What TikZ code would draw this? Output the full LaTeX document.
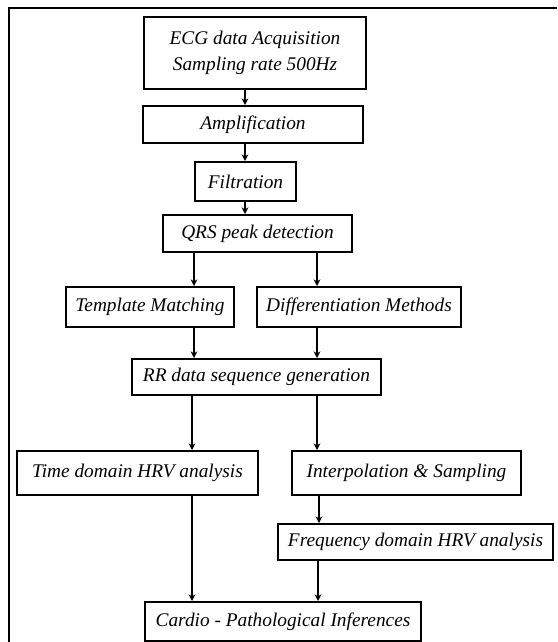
\documentclass[tikz,border=0pt]{standalone}
\usepackage{fontspec}
\setmainfont{Liberation Serif}
\usetikzlibrary{arrows.meta}
\begin{document}
\begin{tikzpicture}[x=0.75pt,y=-0.75pt,
  box/.style={draw=black,line width=1.5pt,fill=white,inner sep=0pt,align=center,
    font=\fontsize{14.5pt}{19pt}\selectfont\itshape},
  conn/.style={line width=1.1pt,-{Stealth[length=5pt,width=5pt]}}]
\useasboundingbox (0,0) rectangle (557,642);
\draw[line width=2pt] (557,8) -- (9,8) -- (9,642);
% nodes
\node[box,minimum width=222*0.75pt,minimum height=72*0.75pt] (ecg) at (255,53) {ECG data Acquisition\\Sampling rate 500Hz};
\node[box,minimum width=220*0.75pt,minimum height=37*0.75pt] (amp) at (253,124.5) {Amplification};
\node[box,minimum width=101*0.75pt,minimum height=39*0.75pt] (filt) at (245.5,181.5) {Filtration};
\node[box,minimum width=189*0.75pt,minimum height=37*0.75pt] (qrs) at (257.5,233.5) {QRS peak detection};
\node[box,minimum width=168*0.75pt,minimum height=40*0.75pt] (tm) at (150,307) {Template Matching};
\node[box,minimum width=204*0.75pt,minimum height=40*0.75pt] (dm) at (359,307) {Differentiation Methods};
\node[box,minimum width=249*0.75pt,minimum height=36*0.75pt] (rr) at (256.5,377) {RR data sequence generation};
\node[box,minimum width=241*0.75pt,minimum height=44*0.75pt] (td) at (137.5,473) {Time domain HRV analysis};
\node[box,minimum width=229*0.75pt,minimum height=44*0.75pt] (ip) at (406.5,473) {Interpolation \& Sampling};
\node[box,minimum width=275*0.75pt,minimum height=36*0.75pt] (fd) at (415.5,542) {Frequency domain HRV analysis};
\node[box,minimum width=276*0.75pt,minimum height=39*0.75pt] (cp) at (283,621.5) {Cardio - Pathological Inferences};
% connectors
\draw[conn] (ecg.south -| 245,0) -- (amp.north -| 245,0);
\draw[conn] (amp.south -| 245,0) -- (filt.north -| 245,0);
\draw[conn] (filt.south -| 245,0) -- (qrs.north -| 245,0);
\draw[conn] (qrs.south -| 194,0) -- (tm.north -| 194,0);
\draw[conn] (qrs.south -| 317,0) -- (dm.north -| 317,0);
\draw[conn] (tm.south -| 194,0) -- (rr.north -| 194,0);
\draw[conn] (dm.south -| 317,0) -- (rr.north -| 317,0);
\draw[conn] (rr.south -| 192,0) -- (td.north -| 192,0);
\draw[conn] (rr.south -| 317,0) -- (ip.north -| 317,0);
\draw[conn] (ip.south -| 319,0) -- (fd.north -| 319,0);
\draw[conn] (fd.south -| 318,0) -- (cp.north -| 318,0);
\draw[conn] (td.south -| 192,0) -- (cp.north -| 192,0);
\end{tikzpicture}
\end{document}
